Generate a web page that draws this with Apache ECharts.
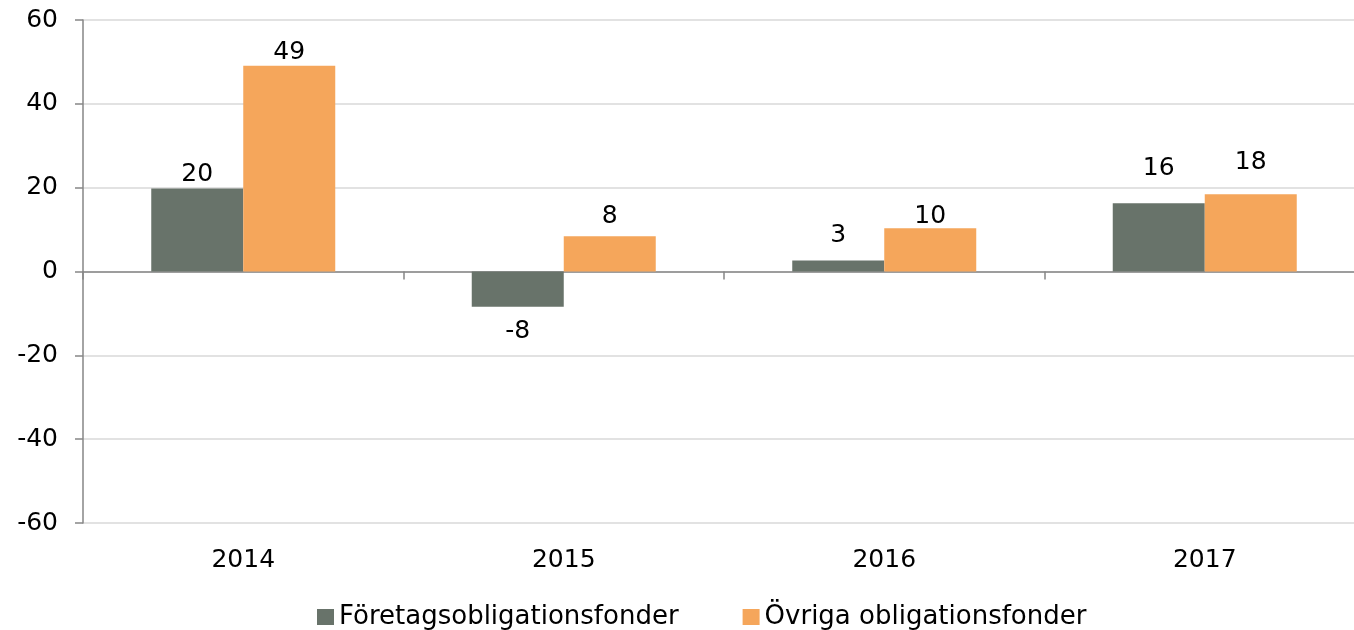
<!DOCTYPE html>
<html>
<head>
<meta charset="utf-8">
<script src="https://cdn.jsdelivr.net/npm/echarts@6/dist/echarts.min.js"></script>
<style>html,body{margin:0;padding:0;background:#fff}#c{width:1354px;height:630px}</style>
</head>
<body>
<div id="c"></div>
<script>
const categories = ['2014', '2015', '2016', '2017'];
const seriesNames = ['Företagsobligationsfonder', 'Övriga obligationsfonder'];
const foretag = [19.8, -8.4, 2.6, 16.3];
const ovriga = [49.1, 8.4, 10.3, 18.4];
const yTicks = [-60, -40, -20, 0, 20, 40, 60];

// extra label lift (px) away from the bar end, as placed in the original
const foretagLift = [0, 10, 11, 20];
const ovrigaLift = [-1, 5, -3, 17];

const FONT = 'DejaVu Sans';
const colors = ['#68736A', '#F5A65B'];

function toData(arr, lift) {
  return arr.map((v, i) => ({
    value: v,
    label: { position: v < 0 ? 'bottom' : 'top', offset: [0, v < 0 ? lift[i] : -lift[i]] }
  }));
}

const chart = echarts.init(document.getElementById('c'), null, { renderer: 'canvas' });
chart.setOption({
  animation: false,
  backgroundColor: '#fff',
  textStyle: { fontFamily: FONT },
  grid: { left: 83, top: 20, width: 1282, height: 503, containLabel: false, outerBoundsMode: 'none' },
  legend: {
    data: seriesNames,
    left: 312, top: 599,
    itemWidth: 17, itemHeight: 16, itemGap: 64,
    icon: 'rect',
    textStyle: { fontFamily: FONT, fontSize: 26, color: '#000' }
  },
  xAxis: [
    {
      type: 'category', data: categories, position: 'bottom',
      axisLine: { show: false, onZero: false }, axisTick: { show: false },
      axisLabel: { fontFamily: FONT, fontSize: 25, color: '#000', margin: 25 },
      splitLine: { show: false }
    },
    {
      type: 'category', data: categories, position: 'bottom',
      axisLine: { show: true, onZero: true, lineStyle: { color: '#868686', width: 1.5 } },
      axisTick: { show: true, length: 8, lineStyle: { color: '#868686', width: 1.5 } },
      axisLabel: { show: false }, splitLine: { show: false }
    }
  ],
  yAxis: {
    type: 'value', min: yTicks[0], max: yTicks[yTicks.length - 1], interval: 20,
    axisLine: { show: true, lineStyle: { color: '#868686', width: 1.5 } },
    axisTick: { show: true, length: 8, lineStyle: { color: '#868686', width: 1.5 } },
    axisLabel: { fontFamily: FONT, fontSize: 25, color: '#000', margin: 25 },
    splitLine: { show: true, lineStyle: { color: '#D9D9D9', width: 1.5 } }
  },
  series: [
    {
      name: seriesNames[0], type: 'bar', xAxisIndex: 0, data: toData(foretag, foretagLift),
      barWidth: 92, barGap: '0%',
      itemStyle: { color: colors[0] },
      label: { show: true, fontFamily: FONT, fontSize: 25, color: '#000', distance: 2,
        formatter: p => Math.round(p.value) }
    },
    {
      name: seriesNames[1], type: 'bar', xAxisIndex: 0, data: toData(ovriga, ovrigaLift),
      barWidth: 92, barGap: '0%',
      itemStyle: { color: colors[1] },
      label: { show: true, fontFamily: FONT, fontSize: 25, color: '#000', distance: 2,
        formatter: p => Math.round(p.value) }
    }
  ]
});
</script>
</body>
</html>
